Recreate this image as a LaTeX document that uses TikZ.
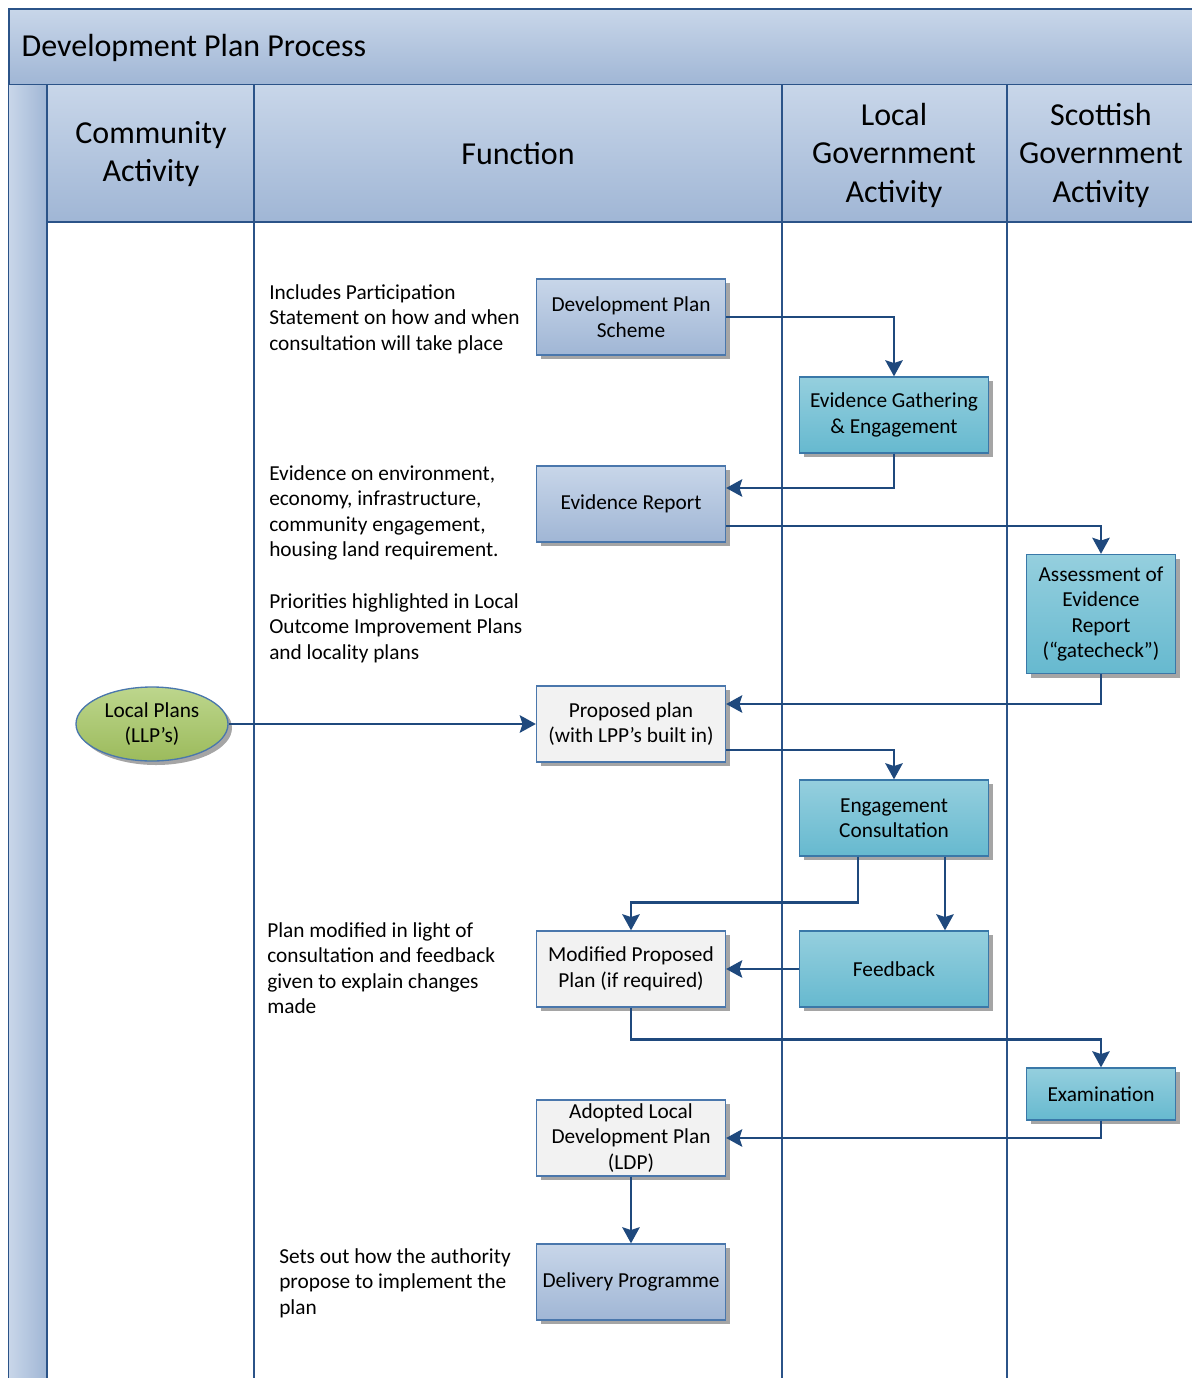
\documentclass[tikz,border=0pt]{standalone}
\usepackage{fontspec}
\setmainfont{Carlito}
\usetikzlibrary{arrows.meta,shadows,shapes.geometric}
\definecolor{lanebl}{HTML}{2B5388}
\definecolor{flowbl}{HTML}{1F497D}
\definecolor{hdtop}{HTML}{C8D6E9}
\definecolor{hdbot}{HTML}{A0B6D5}
\definecolor{tltop}{HTML}{95CFDE}
\definecolor{tlbot}{HTML}{66B9CF}
\definecolor{tlline}{HTML}{3A78A8}
\definecolor{grtop}{HTML}{BDD68D}
\definecolor{grbot}{HTML}{9CBB5C}
\definecolor{shd}{HTML}{A5A5A5}
\definecolor{boxline}{HTML}{4A77AC}

\tikzset{
  boxshadow/.style={drop shadow={shadow xshift=3pt,shadow yshift=-3pt,fill=shd,opacity=1}},
  flowbox/.style={rectangle,draw=boxline,line width=1pt,boxshadow,minimum width=141.75pt,
    minimum height=57pt,align=center,inner sep=2pt,font=\fontsize{16}{19.1}\selectfont},
  planbox/.style={flowbox,top color=hdtop,bottom color=hdbot},
  actbox/.style={flowbox,top color=tltop,bottom color=tlbot,draw=tlline},
  draftbox/.style={flowbox,fill=black!5},
  llp/.style={ellipse,draw=boxline,line width=1pt,boxshadow,top color=grtop,bottom color=grbot,
    minimum width=114pt,minimum height=55.5pt,inner sep=0pt,align=center,font=\fontsize{16}{19.1}\selectfont},
  note/.style={anchor=north west,inner sep=0pt,align=left,font=\fontsize{16}{19.1}\selectfont},
  lanehead/.style={align=center,font=\fontsize{24}{28.9}\selectfont},
  flow/.style={->,draw=flowbl,line width=2pt},
  lane/.style={draw=lanebl,line width=1.5pt}
}

\begin{document}
\begin{tikzpicture}[line join=miter,>={Stealth[length=12pt,width=13pt,inset=2pt]},x=0.75pt,y=-0.75pt]
\useasboundingbox (0,0) rectangle (1192,1378);
\clip (0,0) rectangle (1192,1378);
% pool and lanes
\shade[top color=hdtop,bottom color=hdbot] (9,9) rectangle (1210,85);
\draw[lane] (1210,9) -- (9,9) -- (9,1400);
\draw[lane] (9,85) -- (1210,85);
\shade[left color=hdtop,right color=hdbot] (9,85) rectangle (47,1400);
\shade[top color=hdtop,bottom color=hdbot] (47,85) rectangle (1210,222);
\draw[lane] (47,222) -- (1210,222);
\foreach \lx in {47,254,782,1007}
  \draw[lane] (\lx,85) -- (\lx,1400);
\node[anchor=west,font=\fontsize{24}{28.9}\selectfont] (title) at (17,48) {Development Plan Process};
\node[lanehead] (comm) at (151,154) {Community\\Activity};
\node[lanehead] (func) at (518,154) {Function};
\node[lanehead] (lgov) at (894,155) {Local\\Government\\Activity};
\node[lanehead] (sgov) at (1101,155) {Scottish\\Government\\Activity};

% notes
\node[note] (n1) at (269,284) {Includes Participation\\Statement on how and when\\consultation will take place};
\node[note] (n2) at (269,465) {Evidence on environment,\\economy, infrastructure,\\community engagement,\\housing land requirement.};
\node[note] (n3) at (269,593) {Priorities highlighted in Local\\Outcome Improvement Plans\\and locality plans};
\node[note] (n4) at (267,922) {Plan modified in light of\\consultation and feedback\\given to explain changes\\made};
\node[note] (n5) at (279,1248) {Sets out how the authority\\propose to implement the\\plan};

% steps
\node[planbox] (dps) at (631,317) {Development Plan\\Scheme};
\node[actbox] (ege) at (894,415) {Evidence Gathering\\\& Engagement};
\node[planbox] (er) at (631,504) {Evidence Report};
\node[actbox,minimum width=111.75pt,minimum height=89.25pt] (aer) at (1101,614) {Assessment of\\Evidence\\Report\\(“gatecheck”)};
\node[llp] (llp) at (152,724) {Local Plans\\(LLP’s)};
\node[draftbox] (pp) at (631,724) {Proposed plan\\(with LPP’s built in)};
\node[actbox] (ec) at (894,818) {Engagement\\Consultation};
\node[draftbox] (mpp) at (631,969) {Modified Proposed\\Plan (if required)};
\node[actbox] (fb) at (894,969) {Feedback};
\node[actbox,minimum width=111.75pt,minimum height=39pt] (ex) at (1101,1094) {Examination};
\node[draftbox,inner ysep=0pt] (aldp) at (631,1138) {Adopted Local\\Development Plan\\(LDP)};
\node[planbox] (dp) at (631,1282) {Delivery Programme};

% connectors
\draw[flow] (dps.east) -| (ege.north);
\draw[flow] (ege.south) |- ([yshift=12pt]er.east);
\draw[flow] ([yshift=-16.5pt]er.east) -| (aer.north);
\draw[flow] (aer.south) |- ([yshift=15pt]pp.east);
\draw[flow] (llp.east) -- (pp.west);
\draw[flow] ([yshift=-19.5pt]pp.east) -| (ec.north);
\draw[flow] ([xshift=-27pt]ec.south) -- ++(0,46) -| (mpp.north);
\draw[flow] ([xshift=38.25pt]ec.south) -- ([xshift=38.25pt]fb.north);
\draw[flow] (fb.west) -- (mpp.east);
\draw[flow] (mpp.south) -- ++(0,32) -| (ex.north);
\draw[flow] (ex.south) |- (aldp.east);
\draw[flow] (aldp.south) -- (dp.north);
\end{tikzpicture}
\end{document}
